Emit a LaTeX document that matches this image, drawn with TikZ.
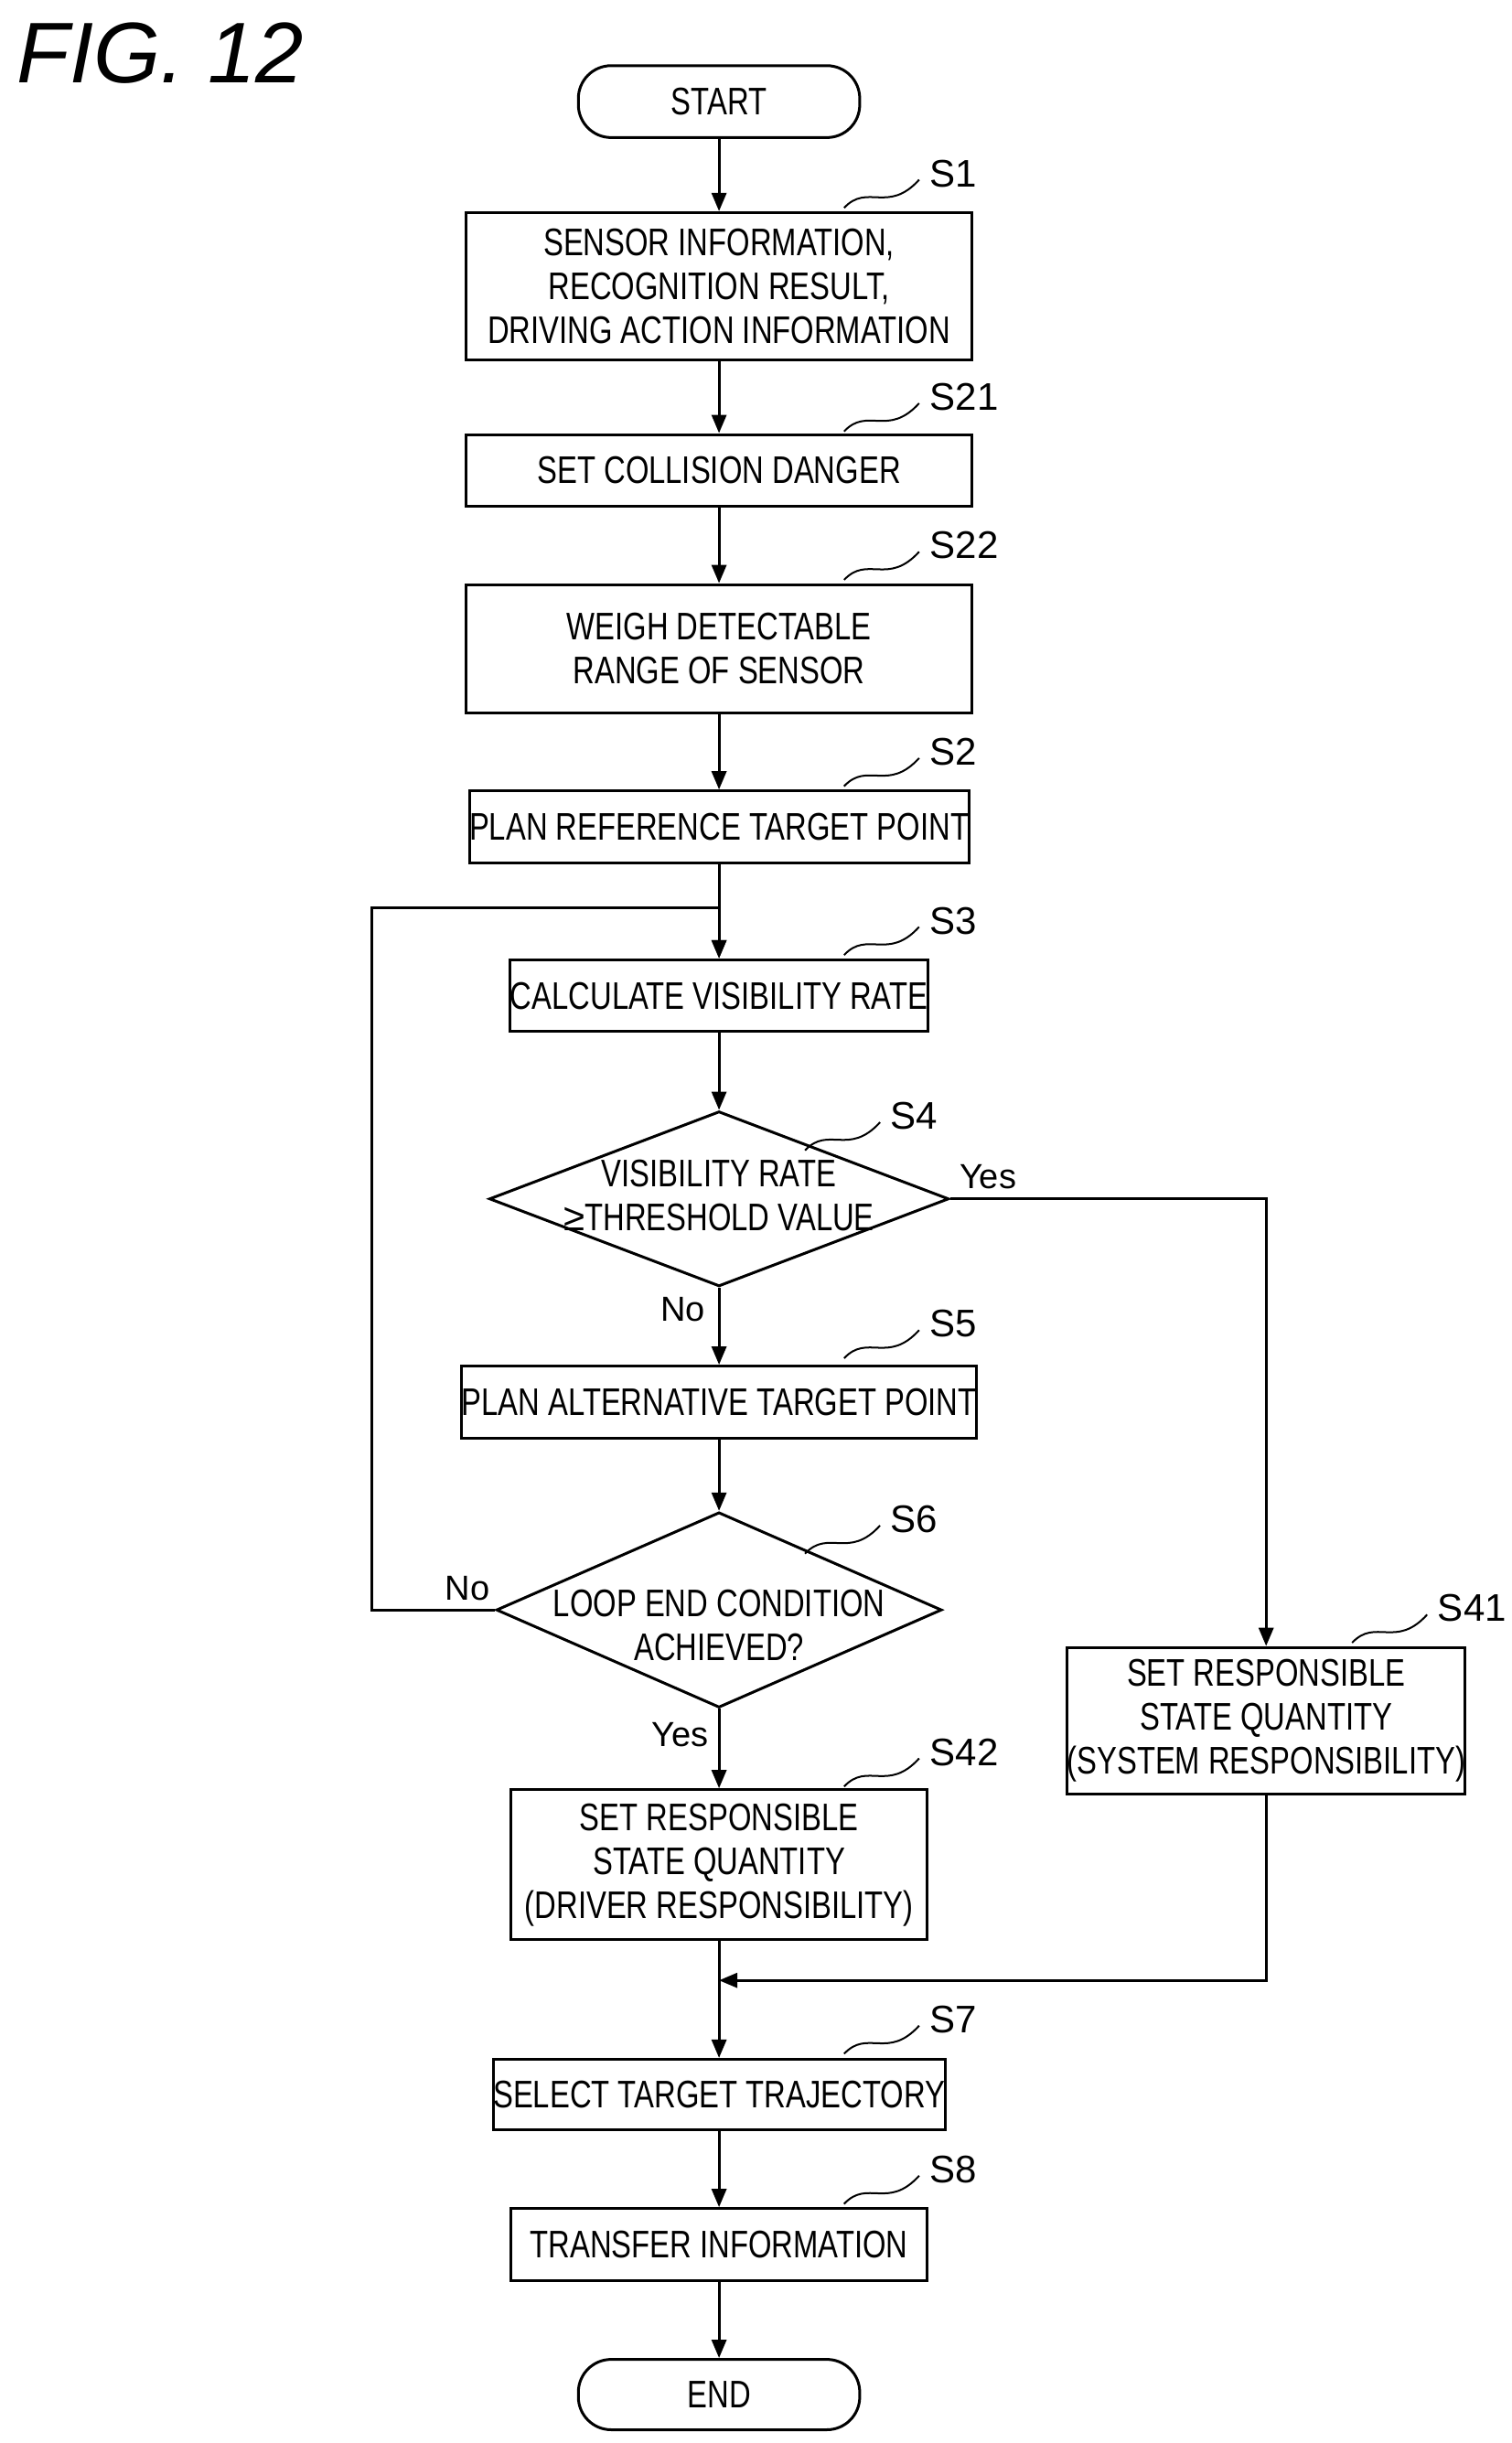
\documentclass[tikz,border=0pt]{standalone}
\usepackage{fontspec}
\setmainfont[FakeStretch=0.78]{Liberation Sans}
\newfontfamily\lblfont{Liberation Sans}
\usetikzlibrary{shapes.geometric,arrows.meta}
\begin{document}
\begin{tikzpicture}[x=0.03cm,y=-0.03cm,line width=1.5pt,
  box/.style={draw,rectangle,inner sep=0pt,align=center,font=\fontsize{21}{24}\selectfont},
  dia/.style={draw,diamond,inner sep=0pt,aspect=2.6,align=center,font=\fontsize{21}{24}\selectfont},
  term/.style={draw,rounded corners=21*0.03cm,inner sep=0pt,font=\fontsize{21}{24}\selectfont},
  lbl/.style={font=\lblfont\fontsize{21}{24}\selectfont,inner sep=0pt},
  arr/.style={-{Triangle[length=10pt,width=8pt]}},
  yn/.style={font=\lblfont\fontsize{19}{22}\selectfont,inner sep=0pt}]
\useasboundingbox (0,0) rectangle (967,1563);
\node[font=\lblfont\itshape\fontsize{47}{50}\selectfont,anchor=west,inner sep=0pt] (fig) at (10,34) {FIG. 12};
\node[term,minimum width=180*0.03cm,minimum height=46*0.03cm] (start) at (460,65) {START};
\node[box,minimum width=324*0.03cm,minimum height=94*0.03cm] (s1) at (460,183) {SENSOR INFORMATION,\\RECOGNITION RESULT,\\DRIVING ACTION INFORMATION};
\node[box,minimum width=324*0.03cm,minimum height=46*0.03cm] (s21) at (460,301) {SET COLLISION DANGER};
\node[box,minimum width=324*0.03cm,minimum height=82*0.03cm] (s22) at (460,415) {WEIGH DETECTABLE\\RANGE OF SENSOR};
\node[box,minimum width=305*0.03cm,minimum height=46*0.03cm] (s2) at (460,529) {PLAN REFERENCE TARGET POINT};
\node[box,minimum width=266*0.03cm,minimum height=46*0.03cm] (s3) at (460,637) {CALCULATE VISIBILITY RATE};
\node[draw,diamond,minimum width=294*0.03cm,minimum height=112*0.03cm,inner sep=0pt] (s4) at (460,767) {};
\node[align=center,font=\fontsize{21}{24}\selectfont] at (460,765) {VISIBILITY RATE\\{\lblfont\char"2265}THRESHOLD VALUE};
\node[box,minimum width=300*0.03cm,minimum height=46*0.03cm] (s5) at (460,897) {PLAN ALTERNATIVE TARGET POINT};
\node[draw,diamond,minimum width=285*0.03cm,minimum height=125*0.03cm,inner sep=0pt] (s6) at (460,1030) {};
\node[align=center,font=\fontsize{21}{24}\selectfont] at (460,1040) {LOOP END CONDITION\\ACHIEVED?};
\node[box,minimum width=254*0.03cm,minimum height=94*0.03cm] (s41) at (810,1101) {SET RESPONSIBLE\\STATE QUANTITY\\(SYSTEM RESPONSIBILITY)};
\node[box,minimum width=266*0.03cm,minimum height=96*0.03cm] (s42) at (460,1193) {SET RESPONSIBLE\\STATE QUANTITY\\(DRIVER RESPONSIBILITY)};
\node[box,minimum width=266*0.03cm,minimum height=45*0.03cm] (s7) at (460,1340) {SELECT TARGET TRAJECTORY};
\node[box,minimum width=266*0.03cm,minimum height=46*0.03cm] (s8) at (460,1436) {TRANSFER INFORMATION};
\node[term,minimum width=180*0.03cm,minimum height=45*0.03cm] (end) at (460,1532) {END};
% connectors
\draw[arr] (start) -- (s1);
\draw[arr] (s1) -- (s21);
\draw[arr] (s21) -- (s22);
\draw[arr] (s22) -- (s2);
\draw[arr] (s2) -- (s3);
\draw[arr] (s3) -- (s4);
\draw[arr] (s4) -- (s5);
\draw[arr] (s5) -- (s6);
\draw[arr] (s6) -- (s42);
\draw[arr] (s42) -- (s7);
\draw[arr] (s7) -- (s8);
\draw[arr] (s8) -- (end);
\coordinate (lp1) at (238,1030);
\coordinate (lp2) at (238,581);
\coordinate (lp3) at (460,581);
\draw[arr] (s6.west) -- (lp1) -- (lp2) -- (lp3) -- (s3.north);
\coordinate (y1) at (810,767);
\draw[arr] (s4.east) -- (y1) -- (s41.north);
\coordinate (m1) at (810,1267);
\coordinate (m2) at (460,1267);
\draw[arr] (s41.south) -- (m1) -- (m2);
% yes/no
\node[yn] (ys4) at (632,753) {Yes};
\node[yn] (ns4) at (437,838) {No};
\node[yn] (ns6) at (299,1016) {No};
\node[yn] (ys6) at (435,1110) {Yes};
% step labels
\newcommand{\steplbl}[4]{%
 \draw[line width=1pt] (#1,#2) .. controls (#1+15,#2-16) and (#1+28,#2+4) .. (#1+48,#2-18);
 \node[lbl,anchor=west] (#4) at (#1+54,#2-22) {#3};}
\steplbl{540}{133}{S1}{l1}
\steplbl{540}{276}{S21}{l21}
\steplbl{540}{371}{S22}{l22}
\steplbl{540}{503}{S2}{l2}
\steplbl{540}{611}{S3}{l3}
\steplbl{515}{736}{S4}{l4}
\steplbl{540}{869}{S5}{l5}
\steplbl{515}{994}{S6}{l6}
\steplbl{865}{1051}{S41}{l41}
\steplbl{540}{1143}{S42}{l42}
\steplbl{540}{1314}{S7}{l7}
\steplbl{540}{1410}{S8}{l8}
\end{tikzpicture}
\end{document}
